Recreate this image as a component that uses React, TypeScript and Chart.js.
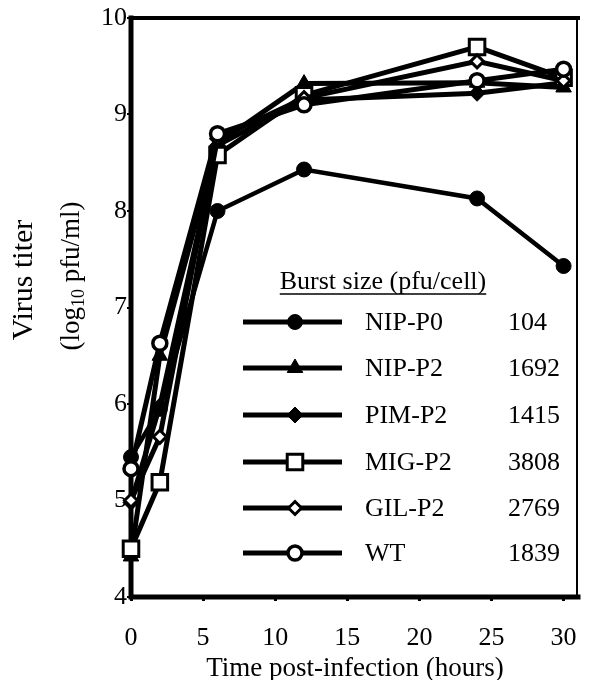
import React, { useEffect, useRef } from 'react';
import { Chart, registerables } from 'chart.js';
Chart.register(...registerables);

const times = [0, 2, 6, 12, 24, 30];
const nipP0 = [5.45, 5.95, 8.0, 8.43, 8.13, 7.43];
const nipP2 = [4.42, 6.5, 8.7, 9.32, 9.33, 9.28];
const pimP2 = [4.98, 5.98, 8.68, 9.15, 9.22, 9.33];
const migP2 = [4.5, 5.19, 8.58, 9.2, 9.7, 9.38];
const gilP2 = [5.0, 5.66, 8.75, 9.17, 9.55, 9.35];
const wt = [5.33, 6.63, 8.8, 9.1, 9.35, 9.47];
const seriesNames = ['NIP-P0', 'NIP-P2', 'PIM-P2', 'MIG-P2', 'GIL-P2', 'WT'];
const burstSizes = ['104', '1692', '1415', '3808', '2769', '1839'];
const seriesValues = [nipP0, nipP2, pimP2, migP2, gilP2, wt];
const xTicks = [0, 5, 10, 15, 20, 25, 30];
const yTicks = [4, 5, 6, 7, 8, 9, 10];

const FONT = '"Liberation Serif", "Times New Roman", serif';

type MarkerStyle = { shape: string; radius: number; filled: boolean; border: number };
const markerStyles: MarkerStyle[] = [
  { shape: 'circle', radius: 7.5, filled: true, border: 1 },
  { shape: 'triangle', radius: 9, filled: true, border: 1 },
  { shape: 'rectRot', radius: 8, filled: true, border: 1 },
  { shape: 'rect', radius: 11, filled: false, border: 3 },
  { shape: 'rectRot', radius: 6.5, filled: false, border: 3 },
  { shape: 'circle', radius: 7, filled: false, border: 3.5 },
];
const lineWidths = [4.5, 5, 5, 5, 5, 5];
const drawOrder = [5, 4, 3, 2, 1, 0];

function drawMarker(ctx: CanvasRenderingContext2D, m: MarkerStyle, x: number, y: number) {
  ctx.save();
  ctx.beginPath();
  const r = m.radius;
  if (m.shape === 'circle') {
    ctx.arc(x, y, r, 0, Math.PI * 2);
  } else if (m.shape === 'triangle') {
    ctx.moveTo(x, y - r);
    ctx.lineTo(x + r * 0.866, y + r * 0.5);
    ctx.lineTo(x - r * 0.866, y + r * 0.5);
    ctx.closePath();
  } else if (m.shape === 'rectRot') {
    ctx.moveTo(x - r, y);
    ctx.lineTo(x, y - r);
    ctx.lineTo(x + r, y);
    ctx.lineTo(x, y + r);
    ctx.closePath();
  } else {
    const s = r * Math.SQRT1_2;
    ctx.rect(x - s, y - s, 2 * s, 2 * s);
  }
  ctx.fillStyle = m.filled ? '#000' : '#fff';
  ctx.fill();
  ctx.lineWidth = m.border;
  ctx.strokeStyle = '#000';
  ctx.stroke();
  ctx.restore();
}

const overlayPlugin = {
  id: 'overlay',
  beforeDatasetsDraw(chart: any) {
    const { ctx, chartArea } = chart;
    const { left, right, top, bottom } = chartArea;
    ctx.save();
    ctx.strokeStyle = '#000';
    ctx.lineCap = 'square';
    ctx.lineWidth = 4;
    ctx.beginPath();
    ctx.moveTo(left, top);
    ctx.lineTo(right, top);
    ctx.stroke();
    ctx.lineWidth = 2;
    ctx.beginPath();
    ctx.moveTo(right - 1, top);
    ctx.lineTo(right - 1, bottom);
    ctx.stroke();
    ctx.lineWidth = 5;
    ctx.beginPath();
    ctx.moveTo(left, top);
    ctx.lineTo(left, bottom);
    ctx.lineTo(right, bottom);
    ctx.stroke();
    ctx.restore();
  },
  afterDraw(chart: any) {
    const ctx: CanvasRenderingContext2D = chart.ctx;
    ctx.save();
    ctx.fillStyle = '#000';
    ctx.strokeStyle = '#000';
    // x title
    ctx.font = `27px ${FONT}`;
    ctx.textAlign = 'center';
    ctx.textBaseline = 'middle';
    ctx.fillText('Time post-infection (hours)', 355, 669);
    // y title
    ctx.save();
    ctx.translate(24, 280);
    ctx.rotate(-Math.PI / 2);
    ctx.font = `30px ${FONT}`;
    ctx.textAlign = 'center';
    ctx.fillText('Virus titer', 0, 0);
    ctx.restore();
    ctx.save();
    ctx.translate(72, 276);
    ctx.rotate(-Math.PI / 2);
    ctx.textAlign = 'left';
    const big = `27px ${FONT}`;
    const small = `18px ${FONT}`;
    ctx.font = big;
    const w1 = ctx.measureText('(log').width;
    const w3 = ctx.measureText(' pfu/ml)').width;
    ctx.font = small;
    const w2 = ctx.measureText('10').width;
    const x0 = -(w1 + w2 + w3) / 2;
    ctx.font = big;
    ctx.fillText('(log', x0, 0);
    ctx.font = small;
    ctx.fillText('10', x0 + w1, 7);
    ctx.font = big;
    ctx.fillText(' pfu/ml)', x0 + w1 + w2, 0);
    ctx.restore();

    // legend
    ctx.font = `26px ${FONT}`;
    ctx.textAlign = 'center';
    ctx.textBaseline = 'middle';
    const title = 'Burst size (pfu/cell)';
    ctx.fillText(title, 383, 282);
    const tw = ctx.measureText(title).width;
    ctx.lineWidth = 1.5;
    ctx.beginPath();
    ctx.moveTo(383 - tw / 2, 294);
    ctx.lineTo(383 + tw / 2, 294);
    ctx.stroke();
    const rowY = [322, 368, 415, 462, 508, 553];
    ctx.textAlign = 'left';
    seriesNames.forEach((name, i) => {
      const y = rowY[i];
      ctx.lineWidth = 5;
      ctx.beginPath();
      ctx.moveTo(243, y);
      ctx.lineTo(342, y);
      ctx.stroke();
      drawMarker(ctx, markerStyles[i], 295, y);
      ctx.fillStyle = '#000';
      ctx.font = `26px ${FONT}`;
      ctx.fillText(name, 365, y + 1);
      ctx.fillText(burstSizes[i], 508, y + 1);
    });
    ctx.restore();
  },
};

export default function App() {
  const ref = useRef<HTMLCanvasElement | null>(null);
  useEffect(() => {
    document.body.style.margin = '0';
    if (!ref.current) return;
    const datasets = seriesNames.map((name, i) => {
      const m = markerStyles[i];
      return {
        label: name,
        data: times.map((t, j) => ({ x: t, y: seriesValues[i][j] })),
        borderColor: '#000',
        borderWidth: lineWidths[i],
        pointStyle: m.shape,
        pointRadius: m.radius,
        pointBackgroundColor: m.filled ? '#000' : '#fff',
        pointBorderColor: '#000',
        pointBorderWidth: m.border,
        tension: 0,
        clip: false as any,
        order: drawOrder[i],
      };
    });
    const chart = new Chart(ref.current, {
      type: 'line',
      data: { datasets },
      options: {
        animation: false,
        responsive: false,
        devicePixelRatio: 1,
        layout: { padding: { left: 0, right: 4, top: 18, bottom: 0 } },
        plugins: { legend: { display: false }, tooltip: { enabled: false } },
        scales: {
          x: {
            type: 'linear',
            min: 0,
            max: 31,
            afterBuildTicks: (s: any) => {
              s.ticks = xTicks.map((v) => ({ value: v }));
            },
            afterFit: (s: any) => {
              s.height = 83;
              s.paddingLeft = 0;
              s.paddingRight = 0;
            },
            border: { display: false },
            grid: { drawOnChartArea: false, drawTicks: true, tickLength: 4, color: '#000', lineWidth: 3 },
            ticks: { color: '#000', font: { family: FONT, size: 26 }, padding: 22, maxRotation: 0 },
          },
          y: {
            type: 'linear',
            min: 4,
            max: 10,
            afterBuildTicks: (s: any) => {
              s.ticks = yTicks.map((v) => ({ value: v }));
            },
            afterFit: (s: any) => {
              s.width = 131;
              s.paddingTop = 0;
              s.paddingBottom = 0;
            },
            border: { display: false },
            grid: { drawOnChartArea: false, drawTicks: true, tickLength: 4, color: '#000', lineWidth: 2 },
            ticks: { color: '#000', font: { family: FONT, size: 26 }, padding: 0 },
          },
        },
      },
      plugins: [overlayPlugin],
    } as any);
    return () => chart.destroy();
  }, []);
  return (
    <div style={{ width: 592, height: 680 }}>
      <canvas ref={ref} width={592} height={680} style={{ display: 'block' }} />
    </div>
  );
}
